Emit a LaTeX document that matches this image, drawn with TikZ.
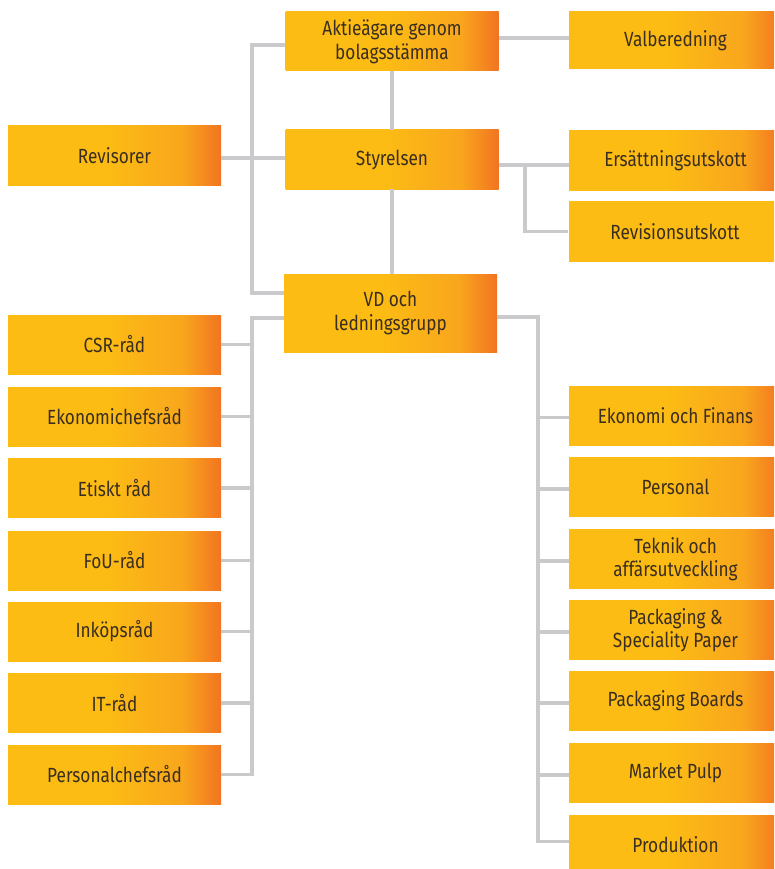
\documentclass[tikz,border=0pt]{standalone}
\usepackage{fontspec}
\setmainfont[FakeStretch=0.84]{Fira Sans}
\definecolor{byel}{HTML}{FCBC14}
\definecolor{bmid}{HTML}{F9A61D}
\definecolor{borg}{HTML}{F27421}
\definecolor{lgray}{HTML}{CACACC}
\definecolor{btext}{HTML}{3A2E20}
\pgfdeclarehorizontalshading{boxshade}{100bp}{color(0bp)=(byel); color(48bp)=(byel); color(66bp)=(bmid); color(75bp)=(borg); color(100bp)=(borg)}
\tikzset{
  orgbox/.style={shade, shading=boxshade, draw=none, inner sep=0pt, minimum width=213pt, minimum height=59pt, align=center, text=btext, font=\fontsize{20.5}{23.5}\selectfont},
  conn/.style={draw=lgray, line width=3.2pt}
}
\begin{document}
\begin{tikzpicture}[x=1pt,y=-1pt]
\useasboundingbox (0,0) rectangle (774,869);
\clip (0,0) rectangle (774,869);
\coordinate (lt) at (252,45);
\coordinate (lb) at (252,293);
\coordinate (rv) at (252,158);
\coordinate (vt) at (0,38);
\coordinate (sb) at (525,165);
\coordinate (vdL) at (252,318);
\coordinate (vdR) at (538,317);
% boxes
\node[orgbox] (akt) at (392,41.5) {Aktieägare genom\\bolagsstämma};
\node[orgbox, minimum height=57pt] (val) at (675.5,40.5) {Valberedning};
\node[orgbox] (rev) at (114.5,155.5) {Revisorer};
\node[orgbox] (sty) at (392,159.5) {Styrelsen};
\node[orgbox] (ers) at (675.5,160.5) {Ersättningsutskott};
\node[orgbox, shade=false, fill=byel, minimum height=61pt] (revu) at (675,231.5) {Revisionsutskott};
\node[orgbox, minimum height=78pt] (vd) at (390.5,313) {VD och\\ledningsgrupp};
% left column
\node[orgbox] (l1) at (114.5,344.5) {CSR-råd};
\node[orgbox] (l2) at (114.5,416.5) {Ekonomichefsråd};
\node[orgbox] (l3) at (114.5,488) {Etiskt råd};
\node[orgbox] (l4) at (114.5,560.5) {FoU-råd};
\node[orgbox] (l5) at (114.5,631.5) {Inköpsråd};
\node[orgbox] (l6) at (114.5,703) {IT-råd};
\node[orgbox] (l7) at (114.5,774.5) {Personalchefsråd};
% right column
\node[orgbox] (r1) at (675.5,415.5) {Ekonomi och Finans};
\node[orgbox] (r2) at (675.5,487) {Personal};
\node[orgbox] (r3) at (675.5,559) {Teknik och\\affärsutveckling};
\node[orgbox] (r4) at (675.5,630) {Packaging \&\\Speciality Paper};
\node[orgbox] (r5) at (675.5,701) {Packaging Boards};
\node[orgbox] (r6) at (675.5,773) {Market Pulp};
\node[orgbox] (r7) at (675.5,844.5) {Produktion};
% connectors
\draw[conn] (akt.west |- lt) -- (lt) -- (lb) -- (vd.west |- lb);
\draw[conn] (rev.east |- rv) -- (sty.west |- rv);
\draw[conn] (akt.south) -- (sty.north);
\draw[conn] (sty.south) -- (sty.south |- vd.north);
\draw[conn] (akt.east |- vt) -- (val.west |- vt);
\draw[conn] (sty.east |- sb) -- (ers.west |- sb);
\draw[conn] (sb) |- (revu.west);
\draw[conn] (vd.west |- vdL) -- (vdL) |- (l7.east);
\foreach \n in {1,...,6} \draw[conn] (l\n.east) -- (l\n.east -| vdL);
\draw[conn] (vd.east |- vdR) -- (vdR) |- ([yshift=3pt]r7.west);
\foreach \n in {1,...,6} \draw[conn] ([yshift=-2pt]r\n.west) -- ([yshift=-2pt]r\n.west -| vdR);
\end{tikzpicture}
\end{document}
